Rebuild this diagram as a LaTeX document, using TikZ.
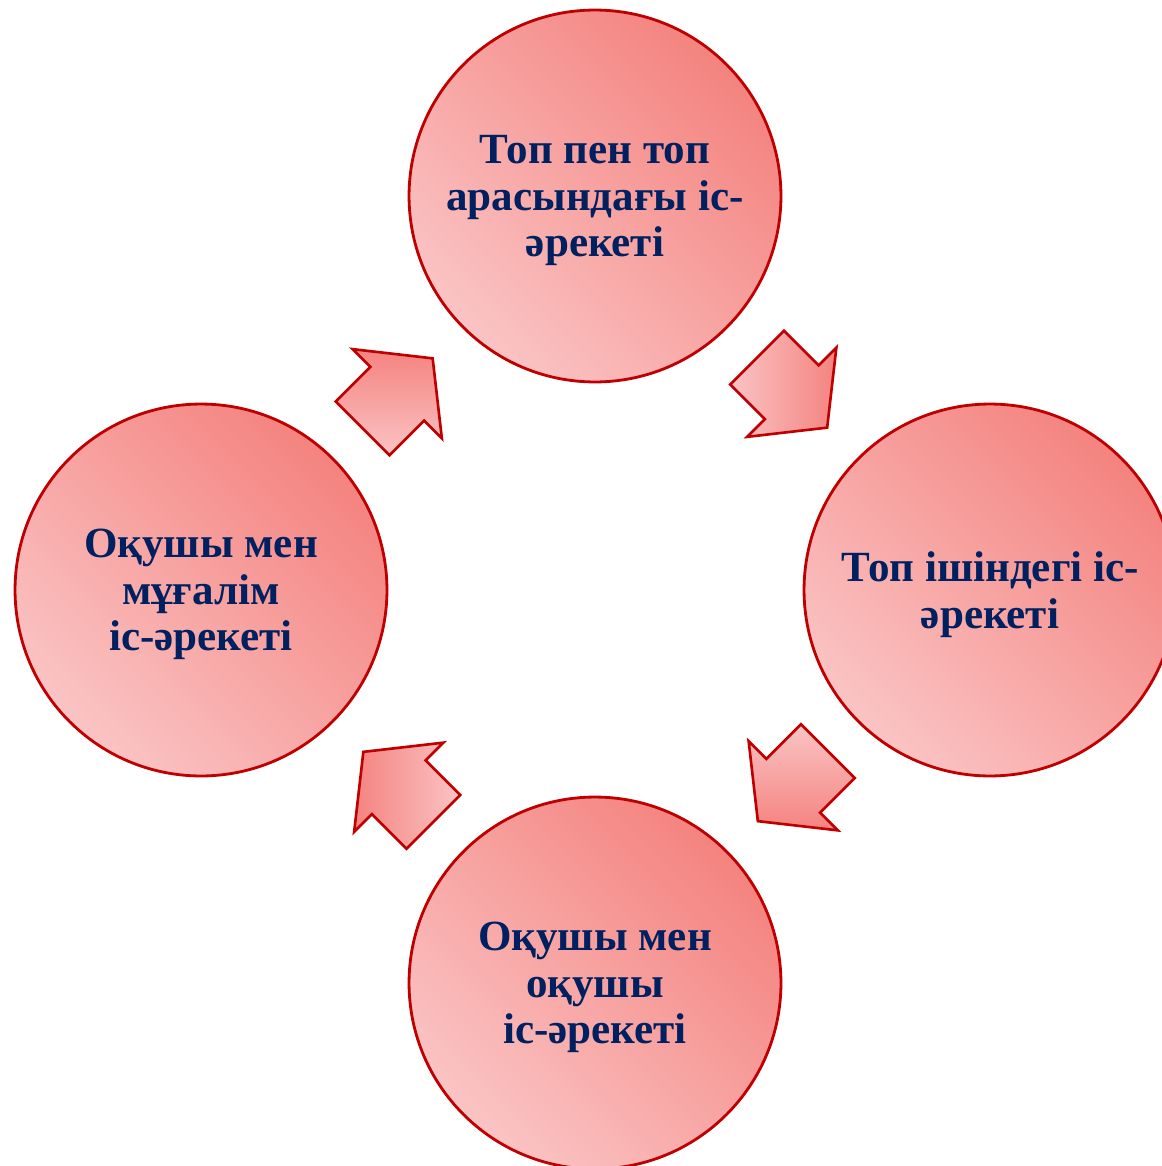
\documentclass[tikz,border=0pt]{standalone}
\usepackage{fontspec}
\setmainfont{Liberation Serif}
\usetikzlibrary{calc}
\definecolor{ink}{HTML}{002060}
\definecolor{rim}{HTML}{C00000}
\definecolor{lightfill}{HTML}{FAC4C4}
\definecolor{darkfill}{HTML}{F4837F}
\newcommand{\cyclefont}{\fontsize{24.5}{26.5}\selectfont\bfseries}
\tikzset{
 every node/.append style={font=\cyclefont,text=ink,align=center},
 stage/.style={circle,draw=rim,line width=1.6pt,left color=lightfill,right color=darkfill,shading angle=135,minimum size=7.44cm,inner sep=0pt,text depth=0pt},
 arrowbody/.style={draw=rim,line width=1.5pt,left color=lightfill,right color=darkfill},
 pics/cyclearrow/.style={code={\shadedraw[arrowbody,shading angle=#1] (-50,-38) -- (-1,-38) -- (-1,-63) -- (49,0) -- (-1,63) -- (-1,38) -- (-50,38) -- cycle;}},
}
\begin{document}
\begin{tikzpicture}[x=0.02cm,y=-0.02cm]

\useasboundingbox (0,0) rectangle (1162,1166);
\node[stage] (between) at (595,196) {Топ пен топ\\арасындағы іс-\\әрекеті};
\node[stage] (within) at (990,590) {Топ ішіндегі іс-\\әрекеті};
\node[stage] (pupils) at (595,983) {Оқушы мен\\оқушы\\іс-әрекеті};
\node[stage] (teacher) at (201,590) {Оқушы мен\\мұғалім\\іс-әрекеті};
\pic[rotate=-45] (turnA) at ($(between)!0.5!(within)$) {cyclearrow=90};
\pic[rotate=-135] (turnB) at ($(within)!0.5!(pupils)$) {cyclearrow=0};
\pic[rotate=135] (turnC) at ($(pupils)!0.5!(teacher)$) {cyclearrow=270};
\pic[rotate=45] (turnD) at ($(teacher)!0.5!(between)$) {cyclearrow=180};

\end{tikzpicture}
\end{document}
